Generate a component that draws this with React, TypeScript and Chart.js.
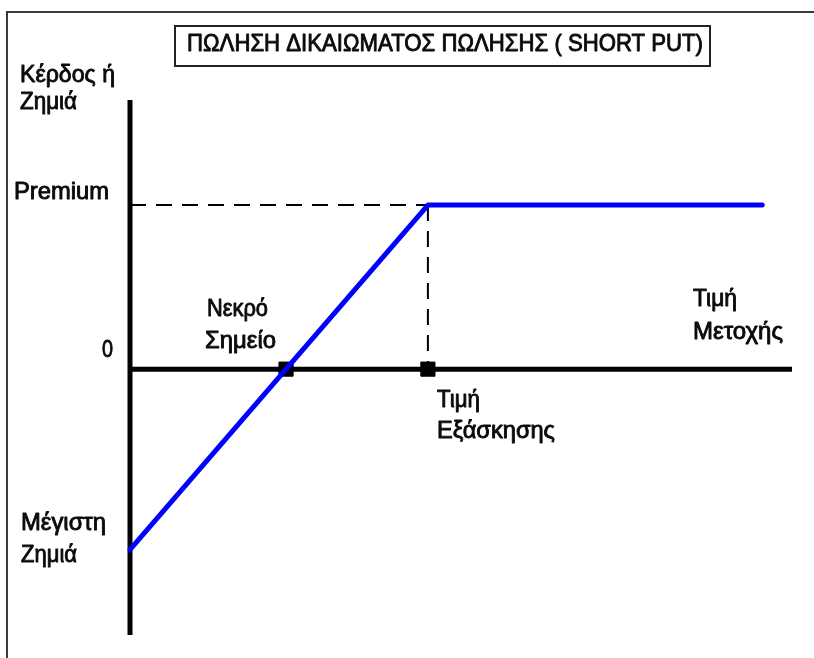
import React, { useEffect, useRef } from "react";
import { Chart, registerables } from "chart.js";

Chart.register(...registerables);

// ---- data ----
const stockPrices = [0, 45, 95.5];
const payoffValues = [-5.5, 5, 5];
const strikePrice = 45;
const premiumValue = 5;
const breakEvenPrice = 23.57;
const priceRange = [0, 100];
const profitRange = [-8.1, 8.2];
const markerPrices = [breakEvenPrice, strikePrice];
const markerValues = [0, 0];
const premiumGuidePrices = [0, strikePrice];
const premiumGuideValues = [premiumValue, premiumValue];
const strikeGuidePrices = [strikePrice, strikePrice];
const strikeGuideValues = [premiumValue, 0];

const titleText = "ΠΩΛΗΣΗ ΔΙΚΑΙΩΜΑΤΟΣ ΠΩΛΗΣΗΣ ( SHORT PUT)";
const yAxisTitle = ["Κέρδος ή", "Ζημιά"];
const premiumLabel = "Premium";
const zeroLabel = "0";
const breakEvenLabel = ["Νεκρό", "Σημείο"];
const strikeLabel = ["Τιμή", "Εξάσκησης"];
const stockLabel = ["Τιμή", "Μετοχής"];
const maxLossLabel = ["Μέγιστη", "Ζημιά"];

const pts = (xs: number[], ys: number[]) => xs.map((x, i) => ({ x, y: ys[i] }));

const FONT = '"Liberation Sans", Arial, "DejaVu Sans", sans-serif';

function drawFit(ctx: CanvasRenderingContext2D, text: string, x: number, baseline: number, width: number, size: number) {
  ctx.font = `${size}px ${FONT}`;
  const w = ctx.measureText(text).width || 1;
  ctx.save();
  ctx.translate(x, baseline);
  ctx.scale(width / w, 1);
  ctx.lineWidth = 0.9;
  ctx.lineJoin = "round";
  ctx.strokeText(text, 0, 0);
  ctx.fillText(text, 0, 0);
  ctx.restore();
}

const decorPlugin = {
  id: "decor",
  beforeDraw(chart: any) {
    const ctx: CanvasRenderingContext2D = chart.ctx;
    ctx.save();
    ctx.fillStyle = "#ffffff";
    ctx.fillRect(0, 0, chart.width, chart.height);
    // outer frame
    ctx.strokeStyle = "#3a3a3a";
    ctx.lineWidth = 2;
    ctx.beginPath();
    ctx.moveTo(814, 12);
    ctx.lineTo(7, 12);
    ctx.lineTo(7, 658);
    ctx.stroke();
    ctx.restore();
  },
  afterDraw(chart: any) {
    const ctx: CanvasRenderingContext2D = chart.ctx;
    ctx.save();
    // title box
    ctx.strokeStyle = "#222";
    ctx.lineWidth = 2;
    ctx.strokeRect(175, 26, 535, 40);
    ctx.fillStyle = "#0a0a0a";
    ctx.strokeStyle = "#0a0a0a";
    ctx.textBaseline = "alphabetic";
    drawFit(ctx, titleText, 187, 51, 516, 24);

    drawFit(ctx, yAxisTitle[0], 20, 82, 95, 24);
    drawFit(ctx, yAxisTitle[1], 20, 109, 57, 24);
    drawFit(ctx, premiumLabel, 14, 199, 95, 24);
    drawFit(ctx, zeroLabel, 102, 357, 11, 24);
    drawFit(ctx, breakEvenLabel[0], 207, 316, 61, 24);
    drawFit(ctx, breakEvenLabel[1], 205, 348, 71, 24);
    drawFit(ctx, strikeLabel[0], 437, 407, 43, 24);
    drawFit(ctx, strikeLabel[1], 437, 438, 118, 24);
    drawFit(ctx, stockLabel[0], 693, 306, 44, 24);
    drawFit(ctx, stockLabel[1], 693, 339, 90, 24);
    drawFit(ctx, maxLossLabel[0], 21, 530, 85, 24);
    drawFit(ctx, maxLossLabel[1], 21, 562, 56, 24);
    ctx.restore();
  },
};

export default function App() {
  const ref = useRef<HTMLCanvasElement>(null);

  useEffect(() => {
    if (!ref.current) return;
    const chart = new Chart(ref.current, {
      type: "line",
      data: {
        datasets: [
          {
            label: "payoff",
            data: pts(stockPrices, payoffValues),
            borderColor: "#0000ff",
            borderWidth: 5,
            pointRadius: 0,
            borderCapStyle: "round",
            borderJoinStyle: "round",
            fill: false,
            order: 0,
            clip: false,
          },
          {
            label: "markers",
            data: pts(markerPrices, markerValues),
            showLine: false,
            pointStyle: "rect",
            pointRadius: 10,
            backgroundColor: "#000",
            borderColor: "#000",
            borderWidth: 1,
            order: 1,
            clip: false,
          },
          {
            label: "xAxis",
            data: pts(priceRange, [0, 0]),
            borderColor: "#000",
            borderWidth: 5,
            pointRadius: 0,
            order: 2,
            clip: false,
          },
          {
            label: "yAxis",
            data: pts([0, 0], profitRange),
            borderColor: "#000",
            borderWidth: 5,
            pointRadius: 0,
            order: 2,
            clip: false,
          },
          {
            label: "premiumGuide",
            data: pts(premiumGuidePrices, premiumGuideValues),
            borderColor: "#000",
            borderWidth: 2,
            borderDash: [16, 10],
            pointRadius: 0,
            order: 3,
            clip: false,
          },
          {
            label: "strikeGuide",
            data: pts(strikeGuidePrices, strikeGuideValues),
            borderColor: "#000",
            borderWidth: 2,
            borderDash: [16, 10],
            pointRadius: 0,
            order: 3,
            clip: false,
          },
        ],
      },
      options: {
        animation: false,
        responsive: false,
        devicePixelRatio: 1,
        layout: { padding: { left: 130, right: 22, top: 100, bottom: 23 } },
        scales: {
          x: { type: "linear", min: priceRange[0], max: priceRange[1], display: false },
          y: { type: "linear", min: profitRange[0], max: profitRange[1], display: false },
        },
        plugins: {
          legend: { display: false },
          tooltip: { enabled: false },
          title: { display: false },
        },
        elements: { line: { tension: 0 } },
      },
      plugins: [decorPlugin],
    } as any);
    return () => chart.destroy();
  }, []);

  return (
    <div style={{ position: "fixed", left: 0, top: 0, width: 814, height: 658, background: "#fff" }}>
      <canvas ref={ref} width={814} height={658} style={{ display: "block", width: 814, height: 658 }} />
    </div>
  );
}
